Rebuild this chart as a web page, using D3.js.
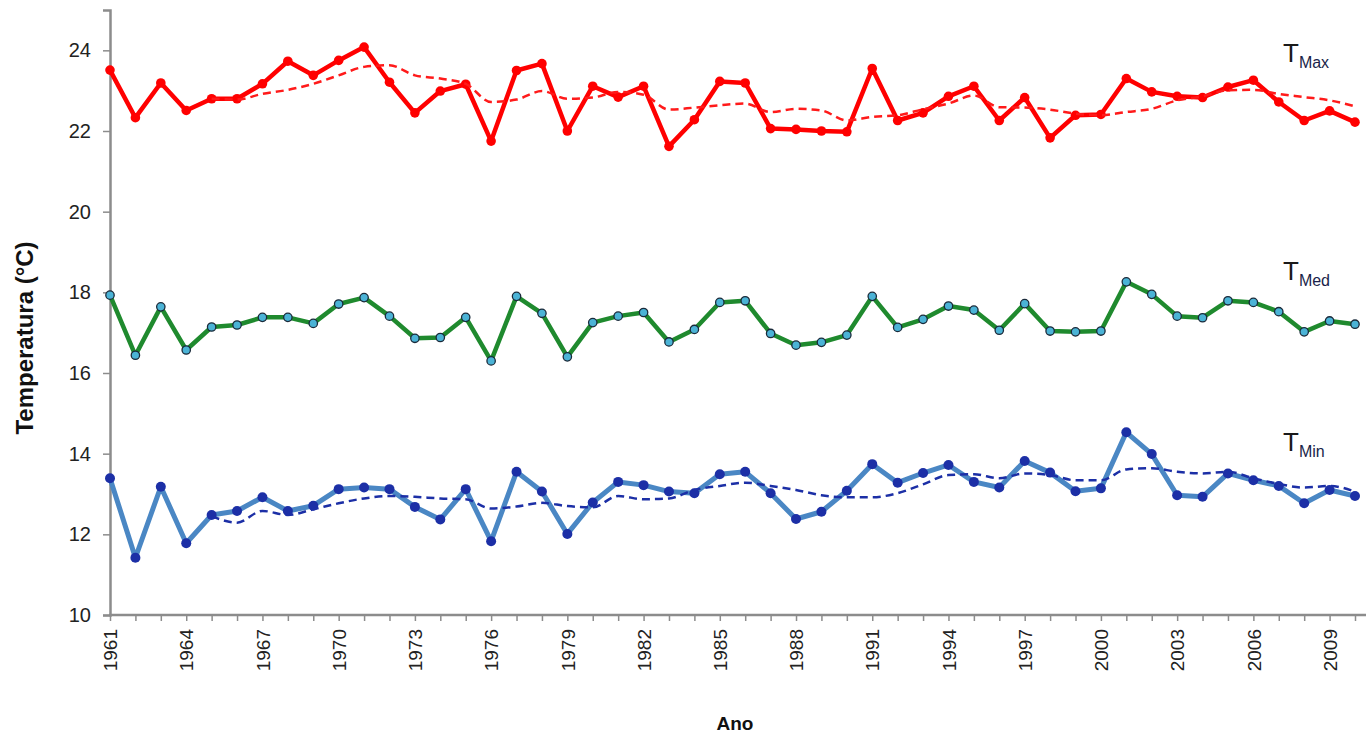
<!DOCTYPE html>
<html>
<head>
<meta charset="utf-8">
<script src="https://cdn.jsdelivr.net/npm/d3@7"></script>
<style>
  body { margin: 0; background: #fff; }
  svg { display: block; font-family: "Liberation Sans", Arial, sans-serif; }
</style>
</head>
<body>
<svg id="chart"></svg>
<script>
// years 1961..2010
const years = [1961,1962,1963,1964,1965,1966,1967,1968,1969,1970,1971,1972,1973,1974,1975,1976,1977,1978,1979,1980,
  1981,1982,1983,1984,1985,1986,1987,1988,1989,1990,1991,1992,1993,1994,1995,1996,1997,1998,1999,2000,
  2001,2002,2003,2004,2005,2006,2007,2008,2009,2010];

const tMax = [23.51,22.33,23.19,22.51,22.80,22.80,23.17,23.73,23.38,23.75,24.08,23.21,22.45,22.99,23.16,21.75,23.50,23.67,22.00,23.11,
  22.84,23.11,21.62,22.28,23.23,23.19,22.06,22.04,22.00,21.98,23.55,22.26,22.45,22.86,23.11,22.26,22.83,21.83,22.39,22.41,
  23.30,22.97,22.86,22.83,23.09,23.26,22.72,22.26,22.50,22.22];

const tMed = [17.93,16.44,17.64,16.57,17.14,17.19,17.38,17.38,17.23,17.71,17.87,17.41,16.86,16.88,17.38,16.30,17.90,17.48,16.40,17.25,
  17.41,17.50,16.77,17.08,17.75,17.79,16.98,16.69,16.76,16.94,17.90,17.13,17.33,17.66,17.56,17.06,17.72,17.04,17.02,17.04,
  18.26,17.95,17.41,17.37,17.79,17.75,17.52,17.02,17.29,17.21];

const tMin = [13.39,11.42,13.18,11.78,12.48,12.58,12.92,12.58,12.71,13.12,13.16,13.12,12.68,12.37,13.12,11.83,13.55,13.06,12.01,12.79,
  13.30,13.22,13.06,13.02,13.49,13.55,13.02,12.38,12.56,13.08,13.74,13.28,13.52,13.72,13.30,13.16,13.82,13.53,13.07,13.14,
  14.53,13.99,12.97,12.93,13.51,13.34,13.20,12.77,13.10,12.95];

// trend lines (dashed), from 1965 on
const trendYears = years.slice(4);
const tMaxTrend = [22.80,22.78,22.92,23.02,23.17,23.38,23.59,23.63,23.38,23.30,23.17,22.72,22.78,22.99,22.80,22.83,
  22.97,22.90,22.53,22.58,22.64,22.68,22.47,22.55,22.51,22.26,22.35,22.39,22.54,22.68,22.88,22.59,22.58,22.53,22.43,22.39,
  22.47,22.55,22.76,22.86,23.01,23.02,22.92,22.84,22.76,22.61];
const tMinTrend = [12.45,12.29,12.58,12.48,12.62,12.77,12.89,12.95,12.93,12.89,12.87,12.64,12.69,12.78,12.70,12.67,
  12.95,12.87,12.89,13.10,13.20,13.28,13.20,13.10,12.97,12.92,12.92,13.02,13.24,13.47,13.49,13.39,13.51,13.47,13.34,13.34,
  13.61,13.64,13.55,13.51,13.55,13.39,13.25,13.16,13.20,13.06];

const yTicks = [10,12,14,16,18,20,22,24];
const labelYears = years.filter((y, i) => i % 3 === 0);

const width = 1368, height = 740;
const svg = d3.select("#chart").attr("width", width).attr("height", height);

const x = d3.scaleLinear().domain([1961, 2010]).range([110, 1355]);
const y = d3.scaleLinear().domain([10, 25]).range([615, 10]);

// y axis
const yAxis = svg.append("g")
  .attr("transform", "translate(110,0)")
  .call(d3.axisLeft(y).tickValues(yTicks).tickSize(7).tickPadding(12));
yAxis.select(".domain").attr("stroke", "#8c8c8c").attr("stroke-width", 2.5);
yAxis.selectAll(".tick line").attr("stroke", "#8c8c8c").attr("stroke-width", 1.5);
yAxis.selectAll(".tick text").attr("font-size", 20).attr("fill", "#222")
  .attr("font-family", "Liberation Sans, Arial, sans-serif");

// x axis
const xAxis = svg.append("g")
  .attr("transform", "translate(0,615)")
  .call(d3.axisBottom(x).tickValues(years).tickSize(6).tickSizeOuter(0)
    .tickFormat(d => labelYears.includes(d) ? String(d) : ""));
xAxis.select(".domain").attr("stroke", "#8c8c8c").attr("stroke-width", 2.5)
  .attr("d", "M109,0H1366");
xAxis.selectAll(".tick line").attr("stroke", "#8c8c8c").attr("stroke-width", 1.5);
xAxis.selectAll(".tick text")
  .attr("font-size", 19).attr("fill", "#222")
  .attr("font-family", "Liberation Sans, Arial, sans-serif")
  .attr("transform", "rotate(-90)")
  .attr("text-anchor", "end")
  .attr("x", -14).attr("y", 0).attr("dy", "0.35em");

// axis titles
svg.append("text")
  .attr("transform", "translate(33,338) rotate(-90)")
  .attr("text-anchor", "middle")
  .attr("font-size", 24).attr("font-weight", "bold").attr("fill", "#111")
  .text("Temperatura (°C)");
svg.append("text")
  .attr("x", 735).attr("y", 730)
  .attr("text-anchor", "middle")
  .attr("font-size", 19).attr("font-weight", "bold").attr("fill", "#111")
  .text("Ano");

const line = d3.line().x(d => x(d[0])).y(d => y(d[1]));

function drawSeries(vals, color, width, dotFill, dotStroke, r) {
  const pts = years.map((yr, i) => [yr, vals[i]]);
  svg.append("path").datum(pts)
    .attr("fill", "none").attr("stroke", color)
    .attr("stroke-width", width).attr("stroke-linejoin", "round")
    .attr("d", line);
  svg.append("g").selectAll("circle")
    .data(pts).enter().append("circle")
    .attr("cx", d => x(d[0])).attr("cy", d => y(d[1]))
    .attr("r", r).attr("fill", dotFill)
    .attr("stroke", dotStroke).attr("stroke-width", dotStroke === "none" ? 0 : 1.3);
}

function drawTrend(vals, color) {
  const pts = trendYears.map((yr, i) => [yr, vals[i]]);
  svg.append("path").datum(pts)
    .attr("fill", "none").attr("stroke", color)
    .attr("stroke-width", 2.5).attr("stroke-dasharray", "8,5")
    .attr("d", line.curve(d3.curveMonotoneX));
  line.curve(d3.curveLinear);
}

drawSeries(tMax, "#ff0000", 4.5, "#ff0000", "none", 4.8);
drawTrend(tMaxTrend, "#ff1a1a");

drawSeries(tMed, "#1f8a2e", 4.5, "#4bb3d6", "#1a2a3a", 4.2);

drawSeries(tMin, "#4a87c4", 5, "#1c2fa6", "none", 5);
drawTrend(tMinTrend, "#1c2fa6");

// series labels
const labels = [["Max", 62], ["Med", 280], ["Min", 451]];
labels.forEach(([sub, yy]) => {
  const t = svg.append("text").attr("x", 1283).attr("y", yy).attr("fill", "#1a1a1a");
  t.append("tspan").attr("font-size", 26).text("T");
  t.append("tspan").attr("font-size", 16).attr("dy", 6).attr("fill", "#1a1f4a").text(sub);
});
</script>
</body>
</html>
